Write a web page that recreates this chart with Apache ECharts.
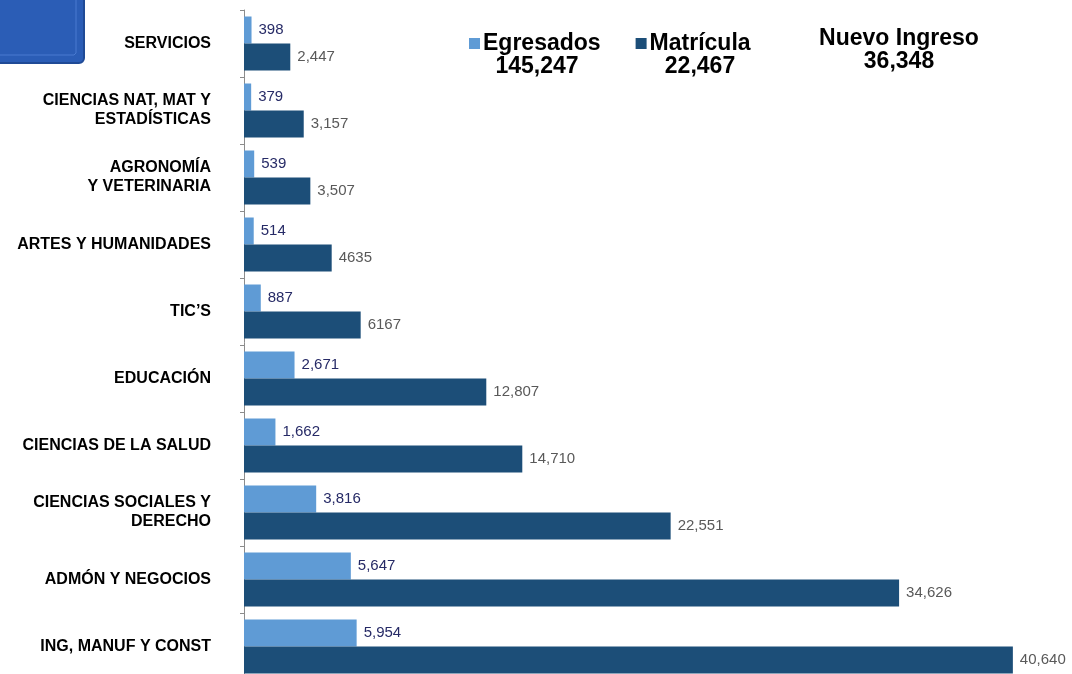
<!DOCTYPE html>
<html>
<head>
<meta charset="utf-8">
<script src="https://cdn.jsdelivr.net/npm/echarts@6/dist/echarts.min.js"></script>
<style>
html,body{margin:0;padding:0;background:#fff;}
#chart{width:1072px;height:674px;}
</style>
</head>
<body>
<div id="chart"></div>
<script>
const categories = [
  'SERVICIOS',
  'CIENCIAS NAT, MAT Y\nESTADÍSTICAS',
  'AGRONOMÍA\nY VETERINARIA',
  'ARTES Y HUMANIDADES',
  'TIC’S',
  'EDUCACIÓN',
  'CIENCIAS DE LA SALUD',
  'CIENCIAS SOCIALES Y\nDERECHO',
  'ADMÓN Y NEGOCIOS',
  'ING, MANUF Y CONST'
];
const egresados = [398, 379, 539, 514, 887, 2671, 1662, 3816, 5647, 5954];
const matricula = [2447, 3157, 3507, 4635, 6167, 12807, 14710, 22551, 34626, 40640];
const egresadosLabels = ['398', '379', '539', '514', '887', '2,671', '1,662', '3,816', '5,647', '5,954'];
const matriculaLabels = ['2,447', '3,157', '3,507', '4635', '6167', '12,807', '14,710', '22,551', '34,626', '40,640'];
const seriesNames = ['Egresados', 'Matrícula'];
const totalsText = ['145,247', '22,467'];
const extraTitle = 'Nuevo Ingreso';
const extraValue = '36,348';

const chart = echarts.init(document.getElementById('chart'));
const font = 'Liberation Sans, Arial, sans-serif';

chart.setOption({
  animation: false,
  backgroundColor: '#ffffff',
  textStyle: { fontFamily: font },
  grid: { left: 244, top: 10, width: 794.6, height: 670, containLabel: false, outerBoundsMode: 'none' },
  legend: {
    data: seriesNames,
    left: 464,
    top: 27,
    itemWidth: 11,
    itemHeight: 11,
    itemGap: 35,
    icon: 'rect',
    textStyle: { fontFamily: font, fontSize: 23, fontWeight: 'bold', color: '#000', padding: [0, 0, 0, -2] }
  },
  xAxis: {
    type: 'value',
    min: 0,
    max: 42000,
    show: false,
    splitLine: { show: false }
  },
  yAxis: {
    type: 'category',
    inverse: true,
    data: categories,
    axisLine: { show: true, lineStyle: { color: '#8c8c8c', width: 1 } },
    axisTick: { show: true, length: 4, lineStyle: { color: '#8c8c8c' } },
    axisLabel: {
      fontFamily: font,
      fontSize: 16,
      fontWeight: 'bold',
      color: '#000',
      margin: 33,
      align: 'right',
      lineHeight: 19
    }
  },
  series: [
    {
      name: seriesNames[0],
      type: 'bar',
      data: egresados,
      barGap: '0%',
      barCategoryGap: '19.4%',
      itemStyle: { color: '#5f9bd5' },
      label: {
        show: true,
        position: 'right',
        distance: 7,
        fontFamily: font,
        fontSize: 15,
        color: '#262a66',
        formatter: p => egresadosLabels[p.dataIndex]
      }
    },
    {
      name: seriesNames[1],
      type: 'bar',
      data: matricula,
      barGap: '0%',
      barCategoryGap: '19.4%',
      itemStyle: { color: '#1c4e78' },
      label: {
        show: true,
        position: 'right',
        distance: 7,
        fontFamily: font,
        fontSize: 15,
        color: '#595959',
        formatter: p => matriculaLabels[p.dataIndex]
      }
    }
  ],
  graphic: [
    {
      type: 'rect',
      shape: { x: -6, y: -6, width: 90, height: 69, r: [0, 0, 5, 0] },
      style: { fill: '#2b5db6', stroke: '#1f4a96', lineWidth: 2 }
    },
    {
      type: 'polyline',
      shape: { points: [[0, 55], [74, 55], [76, 53], [76, 0]] },
      style: { stroke: '#4a7bd0', lineWidth: 1, fill: null }
    },
    {
      type: 'text',
      style: { text: totalsText[0], x: 537, y: 67, align: 'center', verticalAlign: 'middle',
        font: 'bold 23px ' + font, fill: '#000' }
    },
    {
      type: 'text',
      style: { text: totalsText[1], x: 700, y: 67, align: 'center', verticalAlign: 'middle',
        font: 'bold 23px ' + font, fill: '#000' }
    },
    {
      type: 'text',
      style: { text: extraTitle, x: 899, y: 39, align: 'center', verticalAlign: 'middle',
        font: 'bold 23px ' + font, fill: '#000' }
    },
    {
      type: 'text',
      style: { text: extraValue, x: 899, y: 62, align: 'center', verticalAlign: 'middle',
        font: 'bold 23px ' + font, fill: '#000' }
    }
  ]
});
</script>
</body>
</html>
